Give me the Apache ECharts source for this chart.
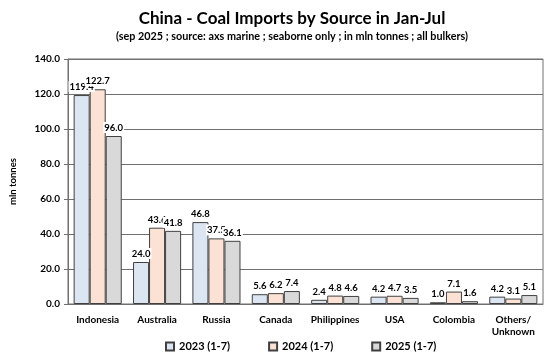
<!DOCTYPE html>
<html><head><meta charset="utf-8">
<script src="https://cdn.jsdelivr.net/npm/echarts@6/dist/echarts.min.js"></script>
<style>html,body{margin:0;padding:0;background:#fff}#c{width:554px;height:363px}</style>
</head><body><div id="c"></div>
<script>
const categories = ['Indonesia','Australia','Russia','Canada','Philippines','USA','Colombia','Others/\nUnknown'];
const s2023 = [119.4, 24.0, 46.8, 5.6, 2.4, 4.2, 1.0, 4.2];
const s2024 = [122.7, 43.6, 37.5, 6.2, 4.8, 4.7, 7.1, 3.1];
const s2025 = [96.0, 41.8, 36.1, 7.4, 4.6, 3.5, 1.6, 5.1];
const seriesNames = ['2023 (1-7)','2024 (1-7)','2025 (1-7)'];
const colors = ['#dce6f2','#fbe2d5','#d9d9d9'];
const FONT = 'Lato';
const chart = echarts.init(document.getElementById('c'));
function mk(name, data, color){
  return {name, type:'bar', data, barGap:'0%', barCategoryGap:'19%',
    itemStyle:{color, borderColor:'#404040', borderWidth:1},
    label:{show:true, position:'top', formatter:p=>p.value.toFixed(1), fontFamily:FONT, fontWeight:'bold', fontSize:9.5, color:'#000', backgroundColor:'#fff', padding:[1,1,0,1], distance:3}};
}
chart.setOption({
  animation:false,
  title:{text:'China - Coal Imports by Source in Jan-Jul', subtext:'(sep 2025 ; source: axs marine ; seaborne only ; in mln tonnes ; all bulkers)',
    left:287, top:5, textAlign:'center', itemGap:4,
    textStyle:{fontFamily:FONT, fontWeight:'bold', fontSize:17, color:'#000'},
    subtextStyle:{fontFamily:FONT, fontWeight:'bold', fontSize:10.8, color:'#000'}},
  legend:{bottom:6, left:'center', itemGap:38, itemWidth:8, itemHeight:8, icon:'rect', left:160,
    textStyle:{fontFamily:FONT, fontWeight:'bold', fontSize:11, color:'#000'}, data:seriesNames},
  grid:{left:68, right:11, top:59, bottom:59, show:true, borderColor:'#707070', borderWidth:1},
  xAxis:{type:'category', data:categories, axisTick:{show:false}, axisLine:{lineStyle:{color:'#707070'}},
    axisLabel:{fontFamily:FONT, fontWeight:'bold', fontSize:10, color:'#000', interval:0, margin:10, lineHeight:12}},
  yAxis:{type:'value', min:0, max:140, interval:20, name:'mln tonnes', nameLocation:'middle', nameGap:50,
    nameTextStyle:{fontFamily:FONT, fontWeight:'bold', fontSize:9.5, color:'#000'},
    axisLine:{show:true, lineStyle:{color:'#707070'}}, axisTick:{show:true, length:4, lineStyle:{color:'#707070'}},
    splitLine:{lineStyle:{color:'#707070', width:1}},
    axisLabel:{formatter:v=>v.toFixed(1), fontFamily:FONT, fontWeight:'bold', fontSize:10, color:'#000', margin:8}},
  series:[mk(seriesNames[0], s2023, colors[0]), mk(seriesNames[1], s2024, colors[1]), mk(seriesNames[2], s2025, colors[2])]
});
</script></body></html>
